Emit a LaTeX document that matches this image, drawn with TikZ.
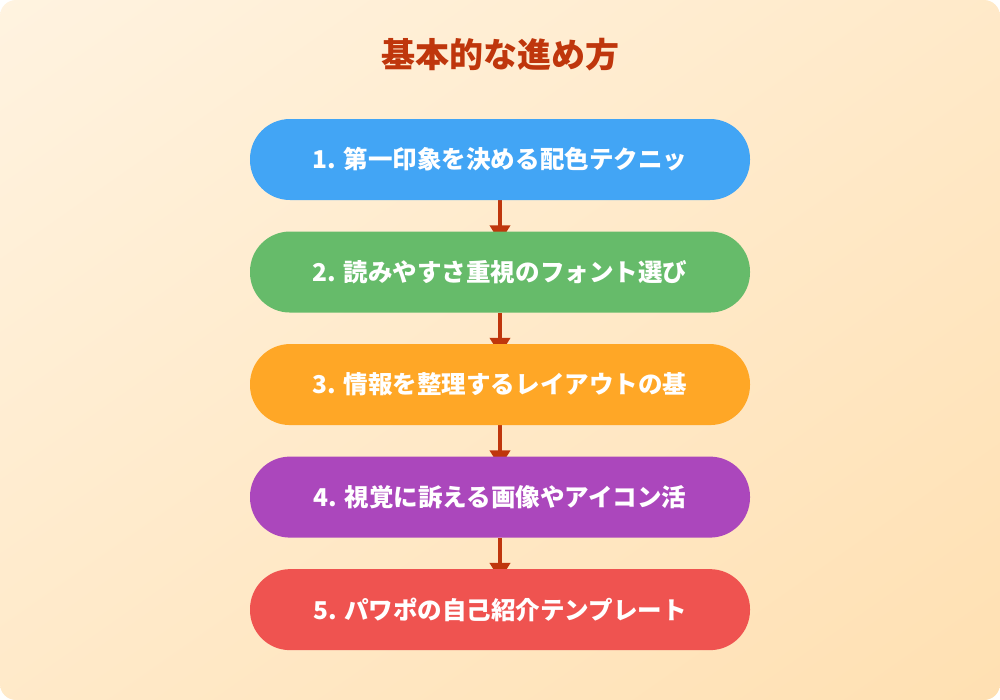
\documentclass[tikz,border=0pt]{standalone}
\usepackage{fontspec}
\newfontfamily\jp{Noto Sans CJK JP}
\usetikzlibrary{positioning,arrows.meta,backgrounds,shadings}
\definecolor{bgtop}{HTML}{FFF3E0}
\definecolor{bgbot}{HTML}{FFE0B2}
\definecolor{deep}{HTML}{BF360C}
\definecolor{cblue}{HTML}{42A5F5}
\definecolor{cgreen}{HTML}{66BB6A}
\definecolor{corange}{HTML}{FFA726}
\definecolor{cpurple}{HTML}{AB47BC}
\definecolor{cred}{HTML}{EF5350}
\tikzset{stepbox/.style={rectangle,rounded corners=30pt,minimum width=375pt,minimum height=60.75pt,inner sep=0pt,text=white,font=\jp\bfseries\fontsize{18.4pt}{22pt}\selectfont},
         heading/.style={text=deep,font=\jp\bfseries\fontsize{25.5pt}{30pt}\selectfont},
         link/.style={draw=deep,line width=3pt,-{Triangle[width=15pt,length=12.75pt]},shorten >=-8.25pt}}

\begin{document}
\begin{tikzpicture}[x=0.75pt,y=-0.75pt,node distance=23.25pt]
  \useasboundingbox (0,0) rectangle (1000,700);

  \node[heading] (title) at (500,55) {基本的な進め方};

  \node[stepbox,fill=cblue] (s1) at (500,159.5) {1. 第一印象を決める配色テクニッ};
  \node[stepbox,fill=cgreen,below=of s1] (s2) {2. 読みやすさ重視のフォント選び};
  \node[stepbox,fill=corange,below=of s2] (s3) {3. 情報を整理するレイアウトの基};
  \node[stepbox,fill=cpurple,below=of s3] (s4) {4. 視覚に訴える画像やアイコン活};
  \node[stepbox,fill=cred,below=of s4] (s5) {5. パワポの自己紹介テンプレート};

  \begin{scope}[on background layer]
    \shade[rounded corners=12pt,upper left=bgtop,lower right=bgbot,upper right=bgtop!50!bgbot,lower left=bgtop!50!bgbot] (0,0) rectangle (1000,700);
    \foreach \a/\b in {s1/s2,s2/s3,s3/s4,s4/s5}
      \draw[link] (\a) -- (\b);
  \end{scope}
\end{tikzpicture}
\end{document}
